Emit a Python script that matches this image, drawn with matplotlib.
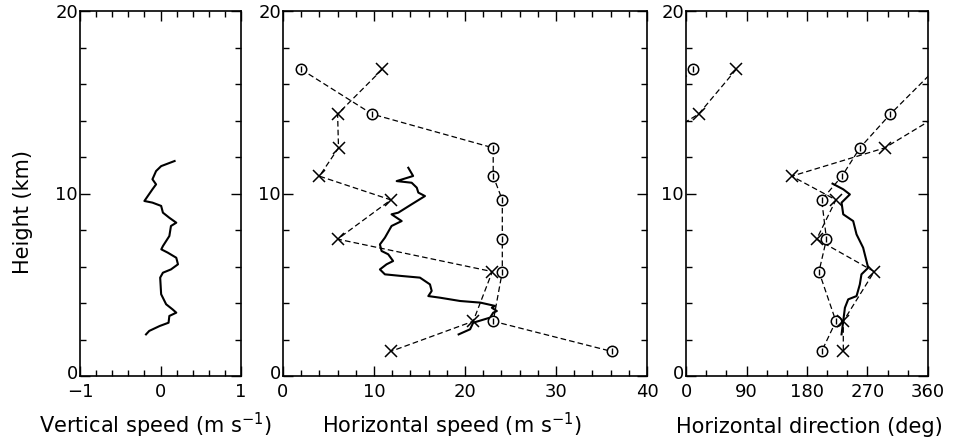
import numpy as np
import matplotlib
matplotlib.use("Agg")
import matplotlib.pyplot as plt
import matplotlib.transforms as mtransforms
from matplotlib.ticker import MultipleLocator

plt.rcParams['font.family'] = ['DejaVu Sans']
plt.rcParams['mathtext.default'] = 'regular'

# ---------------- data ----------------
# balloon-sonde levels (km) shared by both marker series
sonde_height = [16.8, 14.35, 12.5, 10.95, 9.65, 7.5, 5.72, 3.0, 1.35]

# horizontal speed (m/s)
speed_circle = [2.0, 9.8, 23.1, 23.1, 24.1, 24.1, 24.1, 23.1, 36.1]
speed_cross = [10.9, 6.0, 6.1, 4.0, 11.85, 6.0, 23.0, 20.9, 11.85]

# horizontal direction (deg)
dir_circle = [10.4, 304.0, 258.7, 232.0, 201.8, 209.0, 197.8, 223.0, 201.8]
dir_cross = [74.7, 18.8, 295.7, 157.3, 223.0, 194.4, 280.0, 234.0, 234.0]

# continuous profile: vertical speed
w_height = [11.78, 11.5, 11.23, 10.78, 10.5, 10.23, 9.59, 9.5, 9.32, 8.95, 8.67,
            8.4, 8.22, 7.67, 7.12, 6.94, 6.76, 6.48, 6.12, 5.84, 5.66, 5.39,
            4.48, 3.93, 3.65, 3.47, 3.29, 2.92, 2.74, 2.47, 2.28]
w_speed = [0.175, 0.008, -0.055, -0.1, -0.055, -0.1, -0.2, -0.1, 0.008, 0.03, 0.11,
           0.196, 0.13, 0.11, 0.03, 0.01, 0.09, 0.196, 0.217, 0.13, 0.03, -0.004,
           0.008, 0.07, 0.15, 0.196, 0.11, 0.1, -0.01, -0.14, -0.18]

# continuous profile: horizontal speed
h_height = [11.41, 10.96, 10.68, 10.59, 10.32, 10.05, 9.86, 9.41, 8.95, 8.86, 8.49,
            8.22, 7.58, 7.21, 6.85, 6.67, 6.3, 6.12, 5.84, 5.57, 5.48, 5.39, 5.02,
            4.66, 4.38, 4.29, 4.11, 4.02, 3.84, 3.74, 3.56, 3.47, 3.2, 2.92, 2.56, 2.28]
h_speed = [13.77, 14.3, 12.49, 14.14, 14.7, 14.87, 15.6, 14.14, 12.67, 11.93, 13.04,
           11.93, 11.2, 10.65, 10.83, 11.56, 12.1, 11.38, 10.65, 11.2, 13.04, 15.05, 16.15,
           16.34, 15.97, 17.26, 19.46, 21.7, 23.3, 22.95, 23.5, 23.1, 22.76, 20.9, 20.56, 19.3]

# continuous profile: horizontal direction
d_height = [10.54, 10.23, 9.95, 9.5, 8.86, 8.49, 7.76, 7.03, 6.3, 5.93, 5.57, 5.02,
            4.38, 4.2, 3.74, 3.01, 2.28]
d_dir = [218.0, 233.9, 243.8, 231.4, 233.9, 248.7, 253.7, 263.5, 268.5, 271.0, 261.0,
         258.6, 253.7, 241.3, 236.4, 233.9, 231.4]

# ---------------- figure ----------------
W, H = 961, 442
fig = plt.figure(figsize=(W / 100, H / 100), dpi=100)

def px_axes(x0, x1, y0, y1):
    return fig.add_axes([x0 / W, 1 - y1 / H, (x1 - x0) / W, (y1 - y0) / H])

ax1 = px_axes(80, 241, 11, 376)
ax2 = px_axes(283, 647, 11, 376)
ax3 = px_axes(686, 928, 11, 376)

FS = 13
LFS = 15
dash = (0, (4.5, 2.5))
solid_kw = dict(color='black', lw=1.5)
dash_kw = dict(color='black', lw=0.9, linestyle=dash)

def style(ax, xlim, xminor, xticks):
    ax.set_xlim(*xlim)
    ax.set_ylim(0, 20)
    ax.set_xticks(xticks)
    ax.xaxis.set_minor_locator(MultipleLocator(xminor))
    ax.set_yticks([0, 10, 20])
    ax.yaxis.set_minor_locator(MultipleLocator(2))
    ax.tick_params(which='both', direction='in', top=True, right=True,
                   labelsize=FS, width=1.0, colors='black')
    ax.tick_params(which='major', length=7)
    ax.tick_params(which='minor', length=4)
    ax.tick_params(axis='y', pad=1.5)
    ax.tick_params(axis='x', pad=5)
    for s in ax.spines.values():
        s.set_linewidth(1.2)
    # lift the y "0" label a little so it clears the x tick labels
    lbl = ax.get_yticklabels()[0]
    lbl.set_transform(lbl.get_transform() +
                      mtransforms.ScaledTranslation(0, 3 / 72, fig.dpi_scale_trans))

style(ax1, (-1, 1), 0.2, [-1, 0, 1])
style(ax2, (0, 40), 2, [0, 10, 20, 30, 40])
style(ax3, (0, 360), 30, [0, 90, 180, 270, 360])

# panel 1
ax1.plot(w_speed, w_height, **solid_kw)

def draw_circles(ax, x, y):
    ax.plot(x, y, linestyle='none', marker='o', ms=7.5, mfc='white',
            mec='black', mew=1.1, zorder=4)
    ax.plot(x, y, linestyle='none', marker='|', ms=4, mec='black', mew=1.0, zorder=5)

def draw_crosses(ax, x, y):
    ax.plot(x, y, linestyle='none', marker='x', ms=8.5, mec='black', mew=1.1, zorder=4)

# panel 2
ax2.plot(speed_circle, sonde_height, **dash_kw)
ax2.plot(speed_cross, sonde_height, **dash_kw)
ax2.plot(h_speed, h_height, **solid_kw)
draw_circles(ax2, speed_circle, sonde_height)
draw_crosses(ax2, speed_cross, sonde_height)

# panel 3 (direction wraps at 360)
for series in (dir_circle, dir_cross):
    unwrapped = np.unwrap(np.asarray(series), period=360)
    for off in (-720, -360, 0, 360, 720):
        ax3.plot(unwrapped + off, sonde_height, **dash_kw)
ax3.plot(d_dir, d_height, **solid_kw)
draw_circles(ax3, np.mod(dir_circle, 360), sonde_height)
draw_crosses(ax3, np.mod(dir_cross, 360), sonde_height)

# labels
fig.text(23 / W, 1 - 212 / H, 'Height (km)', rotation=90, ha='center', va='center', fontsize=LFS)
ylab = 1 - 433 / H
fig.text(155 / W, ylab, 'Vertical speed (m s$^{-1}$)', ha='center', va='baseline', fontsize=LFS)
fig.text(452 / W, ylab, 'Horizontal speed (m s$^{-1}$)', ha='center', va='baseline', fontsize=LFS)
fig.text(809 / W, ylab, 'Horizontal direction (deg)', ha='center', va='baseline', fontsize=LFS)

fig.savefig('out.png', dpi=100)
